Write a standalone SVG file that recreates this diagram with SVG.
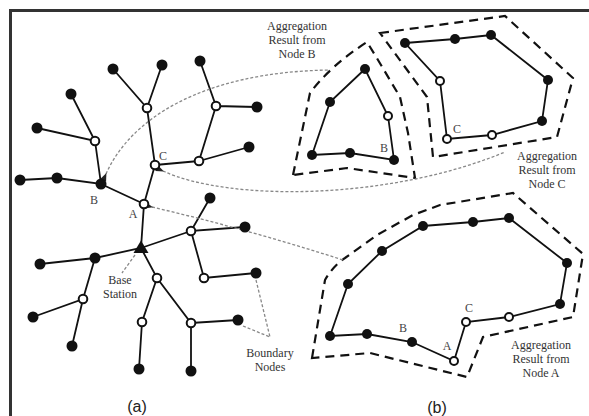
<svg xmlns="http://www.w3.org/2000/svg" width="589" height="416" viewBox="0 0 589 416">
<defs>
<style>
.e{stroke:#111;stroke-width:1.8;fill:none}
.f{fill:#111}
.o{fill:#fff;stroke:#111;stroke-width:2}
.h{stroke:#111;stroke-width:2.2;fill:none;stroke-dasharray:9 6}
.d{stroke:#888;stroke-width:1.3;fill:none;stroke-dasharray:3 2}
.t{font-family:'Liberation Serif','Times New Roman',Times,serif;font-size:12px;fill:#333;text-anchor:middle}
.l{font-family:'Liberation Serif','Times New Roman',Times,serif;font-size:12px;fill:#444;text-anchor:middle}
.s{font-family:'Liberation Sans',Arial,sans-serif;font-size:16px;fill:#222;text-anchor:middle}
</style>
<marker id="ar" markerWidth="8" markerHeight="8" refX="1" refY="4" orient="auto-start-reverse" markerUnits="userSpaceOnUse"><path d="M0,4 L8,0.8 L8,7.2 Z" fill="#222"/></marker>
</defs>
<rect width="589" height="416" fill="#fff"/>
<path d="M10.5,416 V10.5 H589" stroke="#333" stroke-width="3" fill="none"/>

<g id="connectors">
<path class="e" d="M113,69 L147,108 L162,65 M147,108 L155,165 L144,204 L141,248 M200,61 L216,106 L257,107 M216,106 L199,161 L249,147 M199,161 L155,165 M71,94 L95,141 L37,128 M95,141 L101,184 L57,178 L20,180 M101,184 L144,204 M210,198 L191,231 L245,227 M191,231 L141,248 L95,258 L40,264 M95,258 L83,299 L33,317 M83,299 L72,346 M191,231 L204,278 L256,273 M141,248 L157,278 L191,323 L238,320 M191,323 L191,371 M157,278 L142,322 L139,369"/>
<path class="e" d="M365,69 L330,102 L312,155 L350,153 L394,160 L388,116 Z"/>
<path class="e" d="M405,43 L455,39 L491,35 L548,80 L542,121 L492,135 L447,139 L440,81 Z"/>
<path class="e" d="M330,336 L348,284 L382,251 L423,226 L473,222 L509,218 L567,263 L560,304 L509,317 L466,322 L454,361 L412,342 L367,334 Z"/>
<path class="h" d="M293,175 L310,93 Q330,66 367,42 L378,60 L400,97 L408,133 L415,178 L347,168 Z"/>
<path class="h" d="M380,33 L505,16 L573,78 L557,137 L433,157 L427,97 Z"/>
<path class="h" d="M312,358 L325,280 Q333,266 345,258 L377,235 L413,215 L440,205 L513,193 L583,254 L573,317 L483,337 L467,377 L370,353 Z"/>
<path class="d" marker-start="url(#ar)" d="M106,174 C130,120 200,72 330,70"/>
<path class="d" marker-start="url(#ar)" d="M163,171 C230,202 390,200 505,152"/>
<path class="d" marker-start="url(#ar)" d="M152,207 Q250,230 343,260"/>
<path class="d" d="M135,255 L122,273"/>
<path class="d" d="M256,280 L270,337 M243,326 L270,337"/>
</g>

<g id="tree-nodes">
<g class="f">
<circle cx="113" cy="69" r="5.5"/><circle cx="162" cy="65" r="5.5"/><circle cx="200" cy="61" r="5.5"/>
<circle cx="71" cy="94" r="5.5"/><circle cx="37" cy="128" r="5.5"/><circle cx="257" cy="107" r="5.5"/>
<circle cx="249" cy="147" r="5.5"/><circle cx="20" cy="180" r="5.5"/><circle cx="57" cy="178" r="5.5"/>
<circle cx="101" cy="184" r="5.5"/><circle cx="210" cy="198" r="5.5"/><circle cx="245" cy="227" r="5.5"/>
<circle cx="95" cy="258" r="5.5"/><circle cx="40" cy="264" r="5.5"/><circle cx="33" cy="317" r="5.5"/>
<circle cx="72" cy="346" r="5.5"/><circle cx="256" cy="273" r="5.5"/><circle cx="238" cy="320" r="5.5"/>
<circle cx="191" cy="371" r="5.5"/><circle cx="139" cy="369" r="5.5"/>
</g>
<g class="o">
<circle cx="147" cy="108" r="4.3"/><circle cx="216" cy="106" r="4.3"/><circle cx="95" cy="141" r="4.3"/>
<circle cx="155" cy="165" r="4.3"/><circle cx="199" cy="161" r="4.3"/><circle cx="144" cy="204" r="4.3"/>
<circle cx="191" cy="231" r="4.3"/><circle cx="83" cy="299" r="4.3"/><circle cx="157" cy="278" r="4.3"/>
<circle cx="204" cy="278" r="4.3"/><circle cx="142" cy="322" r="4.3"/><circle cx="191" cy="323" r="4.3"/>
</g>
</g>
<g id="base-station"><path d="M141,240.5 L133.5,253 L148.5,253 Z" fill="#111"/></g>

<g id="hull-b">
<g class="f"><circle cx="365" cy="69" r="5"/><circle cx="330" cy="102" r="5"/><circle cx="312" cy="155" r="5"/><circle cx="350" cy="153" r="5"/><circle cx="394" cy="160" r="5"/></g>
<circle class="o" cx="388" cy="116" r="4"/>
</g>
<g id="hull-c">
<g class="f"><circle cx="405" cy="43" r="5"/><circle cx="455" cy="39" r="5"/><circle cx="491" cy="35" r="5"/><circle cx="548" cy="80" r="5"/><circle cx="542" cy="121" r="5"/></g>
<g class="o"><circle cx="492" cy="135" r="4"/><circle cx="447" cy="139" r="4"/><circle cx="440" cy="81" r="4"/></g>
</g>
<g id="hull-a">
<g class="f"><circle cx="330" cy="336" r="5"/><circle cx="348" cy="284" r="5"/><circle cx="382" cy="251" r="5"/><circle cx="423" cy="226" r="5"/><circle cx="473" cy="222" r="5"/><circle cx="509" cy="218" r="5"/><circle cx="567" cy="263" r="5"/><circle cx="560" cy="304" r="5"/><circle cx="412" cy="342" r="5"/><circle cx="367" cy="334" r="5"/></g>
<g class="o"><circle cx="509" cy="317" r="4"/><circle cx="466" cy="322" r="4"/><circle cx="454" cy="361" r="4"/></g>
</g>

<g id="labels">
<text class="l" x="163" y="160">C</text>
<text class="l" x="94" y="204">B</text>
<text class="l" x="133" y="218">A</text>
<text class="l" x="384" y="152">B</text>
<text class="l" x="457" y="133">C</text>
<text class="l" x="403" y="332">B</text>
<text class="l" x="447" y="350">A</text>
<text class="l" x="469" y="312">C</text>
<text class="t" x="120" y="284">Base</text>
<text class="t" x="120" y="298">Station</text>
<text class="t" x="270" y="357">Boundary</text>
<text class="t" x="270" y="371">Nodes</text>
<text class="t" x="297" y="30">Aggregation</text>
<text class="t" x="297" y="44">Result from</text>
<text class="t" x="297" y="58">Node B</text>
<text class="t" x="547" y="160">Aggregation</text>
<text class="t" x="547" y="174">Result from</text>
<text class="t" x="547" y="188">Node C</text>
<text class="t" x="541" y="349">Aggregation</text>
<text class="t" x="541" y="363">Result from</text>
<text class="t" x="541" y="377">Node A</text>
<text class="s" x="137" y="412">(a)</text>
<text class="s" x="437" y="413">(b)</text>
</g>
</svg>
